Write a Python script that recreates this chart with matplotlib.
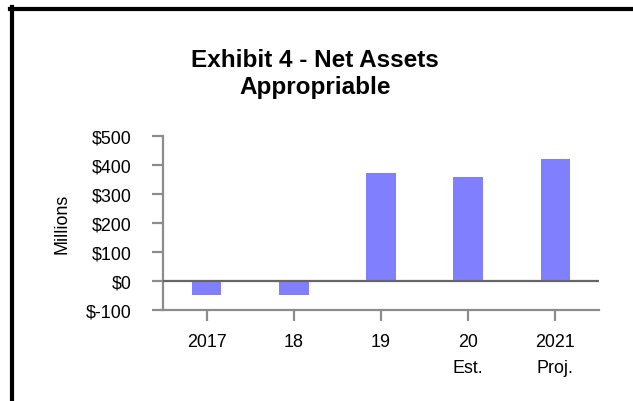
import numpy as np
import matplotlib.pyplot as plt
from matplotlib.lines import Line2D

plt.rcParams['font.family'] = ['Liberation Sans', 'DejaVu Sans']

# Datos (millones de dolares)
anios = ['2017', '18', '19', '20\nEst.', '2021\nProj.']
valores = [-50, -50, 370, 356, 418]
ticks_y = [-100, 0, 100, 200, 300, 400, 500]

W, H = 633, 402
fig = plt.figure(figsize=(W / 100, H / 100), dpi=100)

# Ejes en pixeles
izq, der, arriba, abajo = 163, 599, 136.7, 310.7
ax = fig.add_axes([izq / W, 1 - abajo / H, (der - izq) / W, (abajo - arriba) / H])

x = np.arange(len(anios))
ax.bar(x, valores, width=0.34, color='#8080FF', zorder=2)
ax.axhline(0, color='#666666', lw=1.6, zorder=3)

ax.set_xlim(-0.5, len(anios) - 0.5)
ax.set_ylim(-100, 500)
ax.set_yticks(ticks_y)
ax.set_yticklabels(['$' + str(v) for v in ticks_y])
ax.set_xticks(x)
ax.set_xticklabels(anios, linespacing=1.65)

gris = '#8C8C8C'
for lado in ['top', 'right']:
    ax.spines[lado].set_visible(False)
for lado in ['left', 'bottom']:
    ax.spines[lado].set_color(gris)
    ax.spines[lado].set_linewidth(1.6)
ax.tick_params(axis='both', colors=gris, labelcolor='black', width=1.6,
               length=8, labelsize=12.9)
ax.tick_params(axis='y', pad=14.5)
ax.tick_params(axis='x', pad=9)

fig.text(62 / W, 1 - 224 / H, 'Millions', rotation=90, ha='center', va='center',
         fontsize=12.9)
fig.text(315 / W, 1 - 74 / H, 'Exhibit 4 - Net Assets\nAppropriable', ha='center',
         va='center', fontsize=17.5, fontweight='bold', linespacing=1.25)

# Marco negro (arriba e izquierda)
fig.add_artist(Line2D([10 / W, 1], [1 - 10 / H, 1 - 10 / H], color='black', lw=3,
                      transform=fig.transFigure))
fig.add_artist(Line2D([12 / W, 12 / W], [0, 1 - 8 / H], color='black', lw=3,
                      transform=fig.transFigure))

fig.savefig('out.png', dpi=100)
